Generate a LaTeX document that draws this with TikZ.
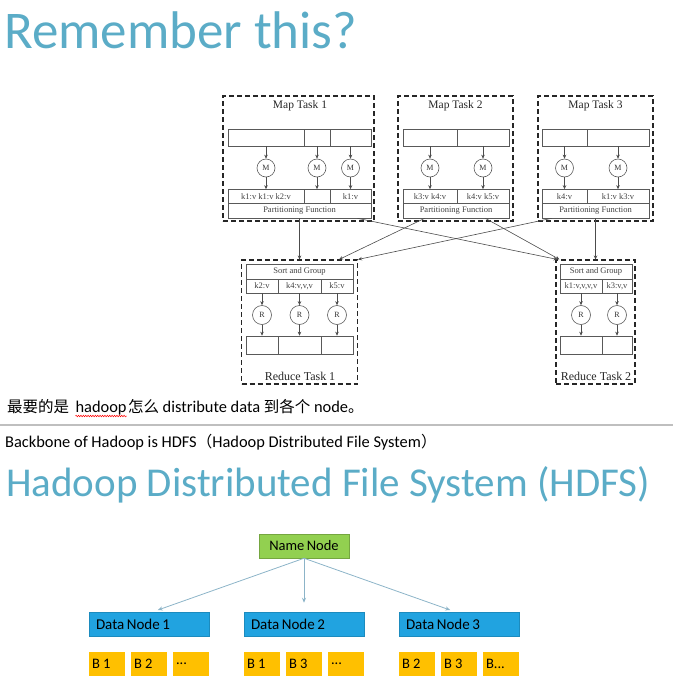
\documentclass[tikz,border=0pt]{standalone}
\usepackage{fontspec}
\setmainfont{Carlito}
\newfontfamily\cjk{Noto Sans CJK SC}
\newfontfamily\diagfont{Liberation Serif}
\newfontfamily\tightfont[WordSpace={0.75,0,0}]{Carlito}
\newcommand\zhtext[1]{{\cjk\fontsize{15.5}{18}\selectfont #1}}
\newcommand\lefttext[2]{\hbox to #1{#2\hfil}}
\usetikzlibrary{arrows.meta,decorations.pathmorphing}
\definecolor{titleblue}{RGB}{91,172,199}
\definecolor{namegreen}{RGB}{146,208,80}
\definecolor{databue}{RGB}{33,163,224}
\definecolor{blockyellow}{RGB}{255,192,0}
\definecolor{linkblue}{RGB}{140,180,200}
\begin{document}
\begin{tikzpicture}[x=1pt,y=-1pt,
    taskbox/.style={draw=black!85, dash pattern=on 5pt off 3pt, line width=1.1pt, inner sep=0},
    cell/.style={draw=black!65, line width=0.6pt, inner sep=0, text=black!75, font=\diagfont\fontsize{8.5}{9}\selectfont},
    fn/.style={circle, draw=black!65, line width=0.6pt, minimum size=18pt, inner sep=0, text=black!80, font=\diagfont\fontsize{8}{9}\selectfont},
    flow/.style={draw=black!70, line width=0.6pt, -{Stealth[length=4pt,width=3.5pt]}},
    tasklabel/.style={text=black!85, font=\diagfont\fontsize{11.5}{13}\selectfont},
    textline/.style={anchor=base west, inner sep=0, font=\fontsize{16.4}{18}\selectfont},
    namebox/.style={fill=namegreen, draw=namegreen!80!black, line width=0.5pt, minimum width=90pt, minimum height=24pt, inner sep=0, font=\tightfont\fontsize{14.5}{16}\selectfont},
    databox/.style={fill=databue, draw=databue!85!black, line width=0.5pt, minimum height=24pt, inner xsep=7pt, inner ysep=0, font=\tightfont\fontsize{15}{16}\selectfont},
    block/.style={fill=blockyellow, minimum height=24pt, inner xsep=3pt, inner ysep=0, font=\fontsize{14.5}{16}\selectfont},
    hlink/.style={draw=linkblue, line width=0.8pt, -{Stealth[length=5pt,width=4pt]}}]
    \useasboundingbox (0,0) rectangle (673,699);
    % Slide titles
    \node[anchor=base west, inner sep=0, text=titleblue, font=\fontsize{53}{56}\selectfont] (title1) at (4,48) {Remember this?};
    \node[anchor=base west, inner sep=0, text=titleblue, font=\fontsize{41}{46}\selectfont] (title2) at (6,496) {Hadoop Distributed File System (HDFS)};
    % Map Task 1
    \node[taskbox, minimum width=151pt, minimum height=125pt] (map1) at (298.5,158.5) {};
    \node[tasklabel] (map1lbl) at (300,106) {Map Task 1};
    \node[cell, minimum width=76pt, minimum height=17pt] (m1in1) at (266,137.5) {};
    \node[cell, minimum width=26pt, minimum height=17pt] (m1in2) at (317,137.5) {};
    \node[cell, minimum width=41pt, minimum height=17pt] (m1in3) at (350.5,137.5) {};
    \node[fn] (m1f1) at (266,168) {M};
    \node[fn] (m1f2) at (317,168) {M};
    \node[fn] (m1f3) at (350.5,168) {M};
    \node[cell, minimum width=76pt, minimum height=13.5pt] (m1out1) at (266,196.25) {k1:v k1:v k2:v};
    \node[cell, minimum width=26pt, minimum height=13.5pt] (m1out2) at (317,196.25) {};
    \node[cell, minimum width=41pt, minimum height=13.5pt] (m1out3) at (350.5,196.25) {k1:v};
    \node[cell, minimum width=143pt, minimum height=15pt] (m1part) at (299.5,210.5) {Partitioning Function};
    \draw[flow] (m1in1) -- (m1f1);
    \draw[flow] (m1in2) -- (m1f2);
    \draw[flow] (m1in3) -- (m1f3);
    \draw[flow] (m1f1) -- (m1out1);
    \draw[flow] (m1f2) -- (m1out2);
    \draw[flow] (m1f3) -- (m1out3);
    % Map Task 2
    \node[taskbox, minimum width=115pt, minimum height=125pt] (map2) at (455.5,158.5) {};
    \node[tasklabel] (map2lbl) at (455.5,106) {Map Task 2};
    \node[cell, minimum width=54pt, minimum height=17pt] (m2in1) at (430,137.5) {};
    \node[cell, minimum width=52pt, minimum height=17pt] (m2in2) at (483,137.5) {};
    \node[fn] (m2f1) at (430,168) {M};
    \node[fn] (m2f2) at (483,168) {M};
    \node[cell, minimum width=54pt, minimum height=13.5pt] (m2out1) at (430,196.25) {k3:v k4:v};
    \node[cell, minimum width=52pt, minimum height=13.5pt] (m2out2) at (483,196.25) {k4:v k5:v};
    \node[cell, minimum width=106pt, minimum height=15pt] (m2part) at (456,210.5) {Partitioning Function};
    \draw[flow] (m2in1) -- (m2f1);
    \draw[flow] (m2in2) -- (m2f2);
    \draw[flow] (m2f1) -- (m2out1);
    \draw[flow] (m2f2) -- (m2out2);
    % Map Task 3
    \node[taskbox, minimum width=115pt, minimum height=125pt] (map3) at (595.5,158.5) {};
    \node[tasklabel] (map3lbl) at (595.5,106) {Map Task 3};
    \node[cell, minimum width=45pt, minimum height=17pt] (m3in1) at (564.5,137.5) {};
    \node[cell, minimum width=62pt, minimum height=17pt] (m3in2) at (618,137.5) {};
    \node[fn] (m3f1) at (564.5,168) {M};
    \node[fn] (m3f2) at (618,168) {M};
    \node[cell, minimum width=45pt, minimum height=13.5pt] (m3out1) at (564.5,196.25) {k4:v};
    \node[cell, minimum width=62pt, minimum height=13.5pt] (m3out2) at (618,196.25) {k1:v k3:v};
    \node[cell, minimum width=107pt, minimum height=15pt] (m3part) at (595.5,210.5) {Partitioning Function};
    \draw[flow] (m3in1) -- (m3f1);
    \draw[flow] (m3in2) -- (m3f2);
    \draw[flow] (m3f1) -- (m3out1);
    \draw[flow] (m3f2) -- (m3out2);
    % Reduce Task 1
    \node[taskbox, minimum width=116pt, minimum height=124pt] (red1) at (299.5,322) {};
    \node[cell, minimum width=107pt, minimum height=15pt] (r1sort) at (299.5,271.5) {Sort and Group};
    \node[cell, minimum width=32pt, minimum height=14pt] (r1key1) at (262,286) {k2:v};
    \node[cell, minimum width=43pt, minimum height=14pt] (r1key2) at (299.5,286) {k4:v,v,v};
    \node[cell, minimum width=32pt, minimum height=14pt] (r1key3) at (337,286) {k5:v};
    \node[fn, minimum size=19pt] (r1f1) at (262,315) {R};
    \node[fn, minimum size=19pt] (r1f2) at (299.5,315) {R};
    \node[fn, minimum size=19pt] (r1f3) at (337,315) {R};
    \node[cell, minimum width=32pt, minimum height=18pt] (r1out1) at (262,345) {};
    \node[cell, minimum width=43pt, minimum height=18pt] (r1out2) at (299.5,345) {};
    \node[cell, minimum width=32pt, minimum height=18pt] (r1out3) at (337,345) {};
    \node[tasklabel, font=\diagfont\fontsize{12}{13}\selectfont] (red1lbl) at (300,376) {Reduce Task 1};
    \draw[flow] (r1key1) -- (r1f1);
    \draw[flow] (r1key2) -- (r1f2);
    \draw[flow] (r1key3) -- (r1f3);
    \draw[flow] (r1f1) -- (r1out1);
    \draw[flow] (r1f2) -- (r1out2);
    \draw[flow] (r1f3) -- (r1out3);
    % Reduce Task 2
    \node[taskbox, minimum width=79pt, minimum height=124pt] (red2) at (595.5,322) {};
    \node[cell, minimum width=72pt, minimum height=15pt] (r2sort) at (596,271.5) {Sort and Group};
    \node[cell, minimum width=42pt, minimum height=14pt] (r2key1) at (581,286) {k1:v,v,v,v};
    \node[cell, minimum width=30pt, minimum height=14pt] (r2key2) at (617,286) {k3:v,v};
    \node[fn, minimum size=19pt] (r2f1) at (581,315) {R};
    \node[fn, minimum size=19pt] (r2f2) at (617,315) {R};
    \node[cell, minimum width=42pt, minimum height=18pt] (r2out1) at (581,345) {};
    \node[cell, minimum width=30pt, minimum height=18pt] (r2out2) at (617,345) {};
    \node[tasklabel, font=\diagfont\fontsize{12}{13}\selectfont] (red2lbl) at (596,376) {Reduce Task 2};
    \draw[flow] (r2key1) -- (r2f1);
    \draw[flow] (r2key2) -- (r2f2);
    \draw[flow] (r2f1) -- (r2out1);
    \draw[flow] (r2f2) -- (r2out2);
    % Shuffle from the map tasks to the reduce tasks
    \draw[flow] (m1part.south) -- (red1.north);
    \draw[flow] ([xshift=-14pt]m1part.south east) -- ([xshift=2pt]red2.north west);
    \draw[flow] ([xshift=22pt]m2part.south west) -- ([xshift=-19pt]red1.north east);
    \draw[flow] ([xshift=-24pt]m2part.south east) -- ([xshift=4pt]red2.north west);
    \draw[flow] ([xshift=10pt]m3part.south west) -- (red1.north east);
    \draw[flow] (m3part.south) -- (red2.north);
    % Notes under the diagram
    \node[textline] (zh1) at (7,412) {\zhtext{最要的是}};
    \node[textline] (hadoop) at ([xshift=6pt]zh1.base east) {hadoop};
    \node[textline] (zh2) at ([xshift=1pt]hadoop.base east) {\zhtext{怎么} distribute data \zhtext{到各个} node\zhtext{。}};
    \draw[red, line width=0.5pt, decorate, decoration={snake, amplitude=0.8pt, segment length=2.4pt}] ([yshift=-4pt]hadoop.base west) -- ([yshift=-4pt]hadoop.base east);
    \draw[black!25, line width=2pt] (0,425) -- (673,425);
    \node[textline] (backbone) at (5,447) {Backbone of Hadoop is HDFS\zhtext{（}Hadoop Distributed File System\zhtext{）}};
    % HDFS: name node, data nodes and their blocks
    \node[namebox] (name) at (304,546) {Name Node};
    \node[databox] (dn1) at (149,624) {\lefttext{106pt}{Data Node 1}};
    \node[databox] (dn2) at (304,624) {\lefttext{106pt}{Data Node 2}};
    \node[databox] (dn3) at (459,624) {\lefttext{106pt}{Data Node 3}};
    \node[block] (b11) at (107,664) {\lefttext{30pt}{B 1}};
    \node[block] (b12) at (149,664) {\lefttext{30pt}{B 2}};
    \node[block] (b13) at (191,664) {\lefttext{30pt}{...}};
    \node[block] (b21) at (262,664) {\lefttext{30pt}{B 1}};
    \node[block] (b22) at (304,664) {\lefttext{30pt}{B 3}};
    \node[block] (b23) at (346,664) {\lefttext{30pt}{...}};
    \node[block] (b31) at (417,664) {\lefttext{30pt}{B 2}};
    \node[block] (b32) at (459,664) {\lefttext{30pt}{B 3}};
    \node[block] (b33) at (501,664) {\lefttext{30pt}{B...}};
    \draw[hlink, shorten >=5pt] (name.south) -- ([xshift=4pt]dn1.north);
    \draw[hlink, shorten >=9pt] (name.south) -- (dn2.north);
    \draw[hlink, shorten >=5pt] (name.south) -- ([xshift=-4pt]dn3.north);
\end{tikzpicture}
\end{document}
